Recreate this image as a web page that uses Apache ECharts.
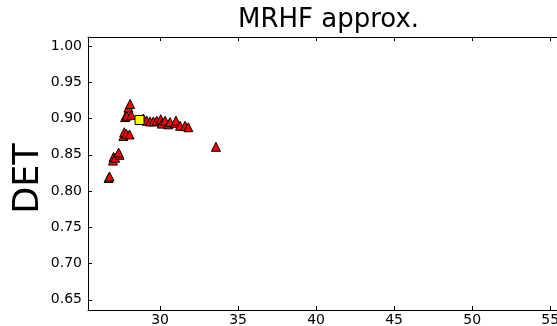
<!DOCTYPE html>
<html><head><meta charset="utf-8">
<script src="https://cdn.jsdelivr.net/npm/echarts@6/dist/echarts.min.js"></script>
<style>html,body{margin:0;padding:0;background:#fff}#c{width:557px;height:326px}</style>
</head><body><div id="c"></div>
<script>
const xTicks = [30, 35, 40, 45, 50, 55];
const yTicks = [0.65, 0.70, 0.75, 0.80, 0.85, 0.90, 0.95, 1.00];
const redX = [26.70, 26.76, 26.98, 27.02, 27.12, 27.40, 27.34, 27.65, 27.70, 27.83, 28.04, 27.76, 27.87, 27.97, 28.08, 28.15,
              28.93, 29.15, 29.36, 29.57, 29.79, 30.04, 30.11, 30.32, 30.53, 30.64, 30.96, 31.02, 31.28, 31.60, 31.81, 33.58];
const redY = [0.818, 0.820, 0.842, 0.847, 0.846, 0.850, 0.853, 0.876, 0.881, 0.879, 0.878, 0.902, 0.904, 0.915, 0.920, 0.905,
              0.900, 0.897, 0.896, 0.896, 0.897, 0.899, 0.893, 0.897, 0.892, 0.895, 0.894, 0.897, 0.890, 0.890, 0.888, 0.861];
const yellowX = [28.68];
const yellowY = [0.898];

const FONT = 'DejaVu Sans';
const chart = echarts.init(document.getElementById('c'), null, {renderer: 'canvas'});
const zip = (a, b) => a.map((v, i) => [v, b[i]]);
const tickStyle = {show: true, inside: true, length: 4, lineStyle: {color: '#000', width: 1}};
const lineStyle = {show: true, onZero: false, lineStyle: {color: '#000', width: 1}};

chart.setOption({
  animation: false,
  backgroundColor: '#fff',
  title: {
    text: 'MRHF approx.', left: 233, top: 2,
    textStyle: {fontFamily: FONT, fontSize: 26, fontWeight: 'normal', color: '#000'}
  },
  grid: {left: 88, right: -5, top: 37, bottom: 16, outerBoundsMode: 'none', containLabel: false},
  xAxis: [{
    type: 'value', min: 25.38, max: 55.76, position: 'bottom',
    axisLine: lineStyle,
    axisTick: Object.assign({customValues: xTicks}, tickStyle),
    axisLabel: {customValues: xTicks, margin: 3, fontFamily: FONT, fontSize: 14, color: '#000'},
    splitLine: {show: false}
  }, {
    type: 'value', min: 25.38, max: 55.76, position: 'top',
    axisLine: lineStyle,
    axisTick: Object.assign({customValues: xTicks}, tickStyle),
    axisLabel: {customValues: xTicks, margin: 43, fontFamily: FONT, fontSize: 14, color: '#000'},
    splitLine: {show: false}
  }],
  yAxis: [{
    type: 'value', min: 0.636, max: 1.0124, position: 'left',
    name: 'DET', nameLocation: 'middle', nameGap: 42, nameRotate: 90, nameMoveOverlap: false,
    nameTextStyle: {fontFamily: FONT, fontSize: 35, color: '#000', padding: [0, 10, 0, 0]},
    axisLine: lineStyle,
    axisTick: Object.assign({customValues: yTicks}, tickStyle),
    axisLabel: {customValues: yTicks, margin: 6, fontFamily: FONT, fontSize: 14, color: '#000',
      formatter: v => v.toFixed(2)},
    splitLine: {show: false}
  }, {
    type: 'value', min: 0.636, max: 1.0124, position: 'right',
    axisLine: lineStyle,
    axisTick: Object.assign({customValues: yTicks}, tickStyle),
    axisLabel: {show: false},
    splitLine: {show: false}
  }],
  series: [{
    type: 'scatter', data: zip(redX, redY), symbol: 'triangle', symbolSize: 9,
    itemStyle: {color: '#ff0000', borderColor: '#000', borderWidth: 1, opacity: 1}
  }, {
    type: 'scatter', data: zip(yellowX, yellowY), symbol: 'rect', symbolSize: 9,
    itemStyle: {color: '#ffff00', borderColor: '#000', borderWidth: 1, opacity: 1}
  }]
});
</script></body></html>
